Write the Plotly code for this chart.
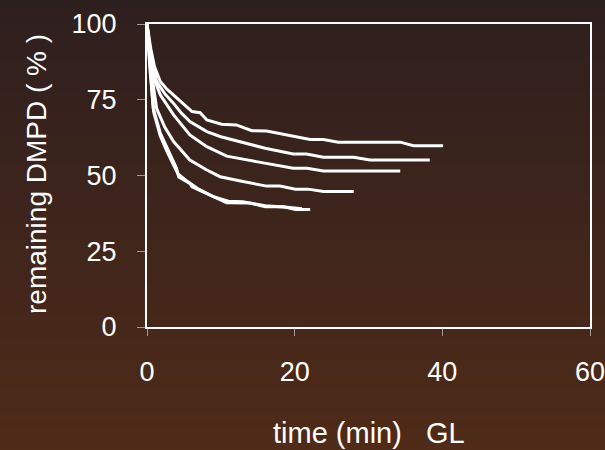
import plotly.graph_objects as go

# time (min) and remaining DMPD (%) for each run
t1 = [0, 0.5, 1, 1.8, 2.7, 3.6, 4.5, 5.4, 6.1, 7.2, 8.1, 10.1, 12.1, 14.2, 16.2, 22.1, 23.9, 25.9, 34.3, 36.1, 40.1]
y1 = [100, 92, 86, 81, 78.5, 76.6, 74.5, 72.5, 71.1, 70.7, 68.3, 66.9, 66.7, 64.8, 64.7, 61.9, 61.9, 61, 61, 59.8, 59.8]

t2 = [0, 0.5, 1.3, 2.4, 3.6, 4.7, 5.8, 8.1, 10, 12.6, 16, 19.8, 21.6, 23.9, 28, 30.2, 38.3]
y2 = [100, 90, 81, 77, 73.8, 70.5, 67.8, 64.5, 62.8, 61.2, 59, 57.1, 57.1, 56, 56, 55.1, 55.1]

t3 = [0, 0.5, 1.1, 1.8, 3.6, 5.8, 8.1, 10.8, 15, 19.8, 21.7, 23.9, 34.3]
y3 = [100, 89, 81, 76.6, 70, 63.4, 59.5, 56.4, 54.5, 52.4, 52.4, 51.5, 51.5]

t4 = [0, 0.6, 1.3, 2.4, 3.6, 5.8, 8.1, 9.9, 13, 16.2, 18, 20.1, 21.8, 23.9, 28]
y4 = [100, 84, 72.2, 66, 61.2, 55.1, 51.8, 49.6, 48, 46.5, 46.5, 45.5, 45.5, 44.7, 44.7]

t5 = [0, 0.4, 0.85, 1.8, 2.7, 3.5, 4.0, 4.3, 5.8, 6.1, 8.1, 10.8, 14, 16, 18.5, 20.1, 22.1]
y5 = [100, 86, 72.2, 64, 59, 55, 52.4, 49.5, 47.4, 46.3, 44.1, 41.0, 40.9, 39.7, 39.7, 38.8, 38.8]

t6 = [0, 0.4, 0.9, 1.8, 2.7, 3.7, 4.2, 5.5, 7, 9, 11, 13, 16, 19, 21]
y6 = [100, 85, 71, 63, 58, 53, 50.5, 48, 45.5, 43, 41.5, 41.3, 40, 39.5, 39]

x_ticks = [0, 20, 40, 60]
y_ticks = [0, 25, 50, 75, 100]

series = [(t1, y1), (t2, y2), (t3, y3), (t4, y4), (t5, y5), (t6, y6)]

FONT = "Liberation Sans, Arial, sans-serif"

fig = go.Figure()
for t, y in series:
    fig.add_trace(go.Scatter(x=t, y=y, mode="lines",
                             line=dict(color="white", width=3),
                             showlegend=False, hoverinfo="skip"))

# background gradient bands (paper coords, spanning whole page)
W, H = 605, 450
L, R, T, B = 147, 15, 24, 123
pw, ph = W - L - R, H - T - B
top_c = (0x2e, 0x1f, 0x1f)
bot_c = (0x4f, 0x2b, 0x18)
n = 60
shapes = []
for i in range(n):
    f = (i + 0.5) / n
    c = tuple(round(top_c[k] + (bot_c[k] - top_c[k]) * f) for k in range(3))
    py0 = i * H / n
    py1 = (i + 1) * H / n + 1
    shapes.append(dict(type="rect", xref="paper", yref="paper", layer="below",
                       x0=-L / pw, x1=(W - L) / pw,
                       y0=(H - B - py1) / ph, y1=(H - B - py0) / ph,
                       fillcolor="rgb(%d,%d,%d)" % c, line=dict(width=0)))

fig.update_layout(
    width=W, height=H,
    margin=dict(l=L, r=R, t=T, b=B, autoexpand=False),
    paper_bgcolor="#3d2520",
    plot_bgcolor="rgba(0,0,0,0)",
    shapes=shapes,
    font=dict(family=FONT, color="white", size=27),
    xaxis=dict(range=[0, 60], tickvals=x_ticks, showgrid=False, zeroline=False,
               showline=True, mirror=True, linecolor="white", linewidth=2,
               ticks="outside", ticklen=7, tickcolor="#a09898", tickwidth=1,
               ticklabelstandoff=13, ticklabeloverflow="allow", automargin=False,
               tickfont=dict(size=27, color="white")),
    yaxis=dict(range=[0, 100], tickvals=y_ticks, showgrid=False, zeroline=False,
               showline=True, mirror=True, linecolor="white", linewidth=2,
               ticks="outside", ticklen=8, tickcolor="#a09898", tickwidth=1,
               ticklabelstandoff=15, ticklabeloverflow="allow", automargin=False,
               tickfont=dict(size=27, color="white")),
    annotations=[
        dict(text="time (min)   GL", xref="paper", yref="paper",
             x=0.5, y=-(433 - (H - B)) / ph, xanchor="center", yanchor="middle",
             showarrow=False, font=dict(size=29, color="white")),
        dict(text="remaining DMPD ( % )", xref="paper", yref="paper",
             x=-(L - 36) / pw, y=(H - B - 174) / ph, xanchor="center", yanchor="middle",
             textangle=-90, showarrow=False, font=dict(size=28, color="white")),
    ],
)

fig.write_html("out.html", config={"displayModeBar": False},
               post_script="document.body.style.margin='0';document.body.style.overflow='hidden';")
